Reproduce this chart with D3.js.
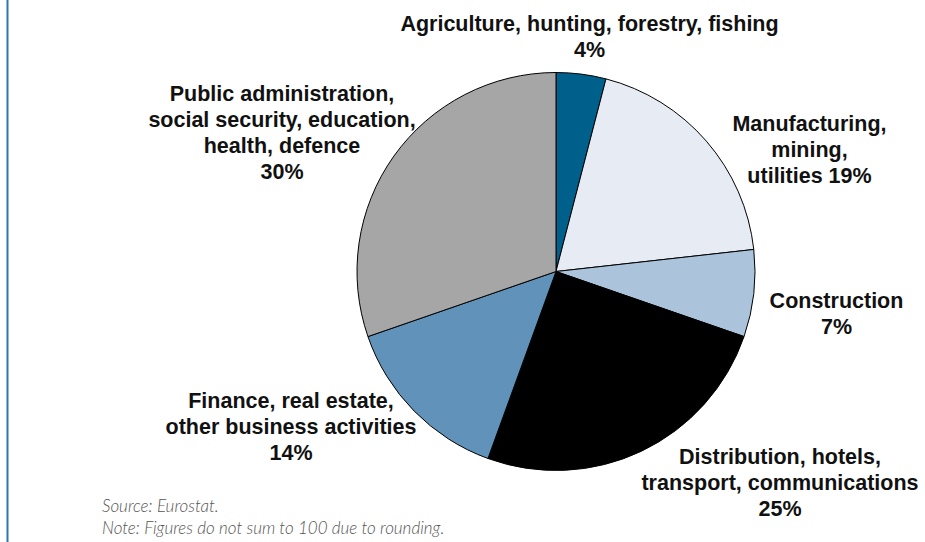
<!DOCTYPE html>
<html>
<head>
<meta charset="utf-8">
<script src="https://cdn.jsdelivr.net/npm/d3@7"></script>
<style>
  html, body { margin: 0; padding: 0; background: #fff; }
  svg { display: block; }
  .lbl { font-family: "Liberation Sans", Arial, sans-serif; font-weight: 700; fill: #111; }
  .note { font-family: Lato, "Open Sans", sans-serif; font-style: italic; font-weight: 300; fill: #555; }
</style>
</head>
<body>
<script>
// Gross value added by sector, share of total (%)
const sectors = [
  "Agriculture, hunting, forestry, fishing",
  "Manufacturing, mining, utilities",
  "Construction",
  "Distribution, hotels, transport, communications",
  "Finance, real estate, other business activities",
  "Public administration, social security, education, health, defence"
];
const shares = [4, 19, 7, 25, 14, 30];
const colors = ["#00608c", "#e7ecf4", "#abc3db", "#000000", "#6192b9", "#a6a6a6"];
// Label text, one entry per line
const labelLines = [
  ["Agriculture, hunting, forestry, fishing", "4%"],
  ["Manufacturing,", "mining,", "utilities 19%"],
  ["Construction", "7%"],
  ["Distribution, hotels,", "transport, communications", "25%"],
  ["Finance, real estate,", "other business activities", "14%"],
  ["Public administration,", "social security, education,", "health, defence", "30%"]
];
// Anchor point (centre x, first baseline y) of each label block
const labelAnchors = [
  [589.5, 31], [809.5, 131], [836.5, 308], [780, 464], [291, 408], [282, 101]
];
const notes = ["Source: Eurostat.", "Note: Figures do not sum to 100 due to rounding."];

const W = 925, H = 542;
const cx = 556, cy = 271.5, R = 199;

const svg = d3.select("body").append("svg")
  .attr("width", W).attr("height", H);

// frame line on the left edge
svg.append("line")
  .attr("x1", 7.5).attr("x2", 7.5).attr("y1", 0).attr("y2", H)
  .attr("stroke", "#2f77aa").attr("stroke-width", 2);

const pie = d3.pie().sort(null).value(d => d);
const arc = d3.arc().innerRadius(0).outerRadius(R);

svg.append("g")
  .attr("transform", `translate(${cx},${cy})`)
  .selectAll("path")
  .data(pie(shares))
  .join("path")
  .attr("d", arc)
  .attr("fill", (d, i) => colors[i])
  .attr("stroke", "#000")
  .attr("stroke-width", 1)
  .attr("stroke-linejoin", "round");

const lineH = 26;
const labels = svg.append("g");
labelLines.forEach((lines, i) => {
  const t = labels.append("text")
    .attr("class", "lbl")
    .attr("font-size", 21.5)
    .attr("text-anchor", "middle")
    .attr("x", labelAnchors[i][0])
    .attr("y", labelAnchors[i][1]);
  lines.forEach((s, j) => {
    t.append("tspan")
      .attr("x", labelAnchors[i][0])
      .attr("dy", j === 0 ? 0 : lineH)
      .text(s);
  });
});

svg.append("g").selectAll("text")
  .data(notes)
  .join("text")
  .attr("class", "note")
  .attr("font-size", 17)
  .attr("x", 102)
  .attr("y", (d, i) => 512 + i * 22)
  .text(d => d);
</script>
</body>
</html>
